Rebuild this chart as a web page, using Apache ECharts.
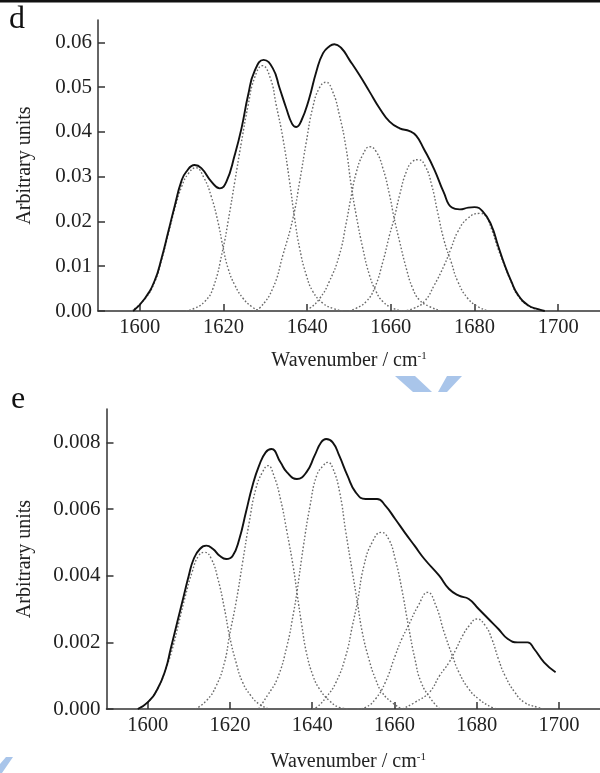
<!DOCTYPE html>
<html>
<head>
<meta charset="utf-8">
<script src="https://cdn.jsdelivr.net/npm/echarts@6/dist/echarts.min.js"></script>
<style>
  html, body { margin: 0; padding: 0; background: #fff; }
  #chart { width: 600px; height: 773px; }
</style>
</head>
<body>
<div id="chart"></div>
<script>
// tick positions
const xTicks = [1600, 1620, 1640, 1660, 1680, 1700];
const yTicksD = [0, 0.01, 0.02, 0.03, 0.04, 0.05, 0.06];
const yTicksE = [0, 0.002, 0.004, 0.006, 0.008];

// panel d - measured spectrum and fitted bands, [wavenumber, value]
const dSum = [[1598.4,0],[1601.2,0.0028],[1603.6,0.0069],[1605.2,0.0118],[1606.8,0.0177],[1608.4,0.0237],[1609.9,0.0289],[1611.1,0.0311],[1613.1,0.0326],[1614.7,0.0319],[1617.1,0.0289],[1619.1,0.0274],[1620.7,0.0289],[1622.7,0.0349],[1624.3,0.0408],[1625.9,0.0483],[1627.4,0.0535],[1629.6,0.0561],[1631.8,0.0542],[1633.4,0.0498],[1635.0,0.0453],[1636.4,0.0418],[1637.4,0.0411],[1638.6,0.0425],[1640.4,0.0472],[1642.2,0.0535],[1643.8,0.0576],[1645.4,0.0592],[1646.5,0.0596],[1648.1,0.0588],[1650.1,0.0561],[1652.5,0.0527],[1654.9,0.049],[1657.3,0.0453],[1659.7,0.0423],[1662.1,0.0408],[1664.5,0.0402],[1666.1,0.0391],[1667.9,0.0362],[1670.4,0.0316],[1672.6,0.0266],[1674.6,0.0231],[1676.5,0.0227],[1678.5,0.0231],[1680.0,0.0232],[1682.0,0.0222],[1684.0,0.0192],[1685.6,0.0147],[1687.2,0.0103],[1688.8,0.0066],[1690.4,0.0036],[1692.8,0.0013],[1695.2,0.0004],[1696.8,0]];
const dG1 = [[1598,0],[1601.2,0.0027],[1603.6,0.0066],[1605.2,0.0114],[1606.8,0.0172],[1608.4,0.023],[1610,0.0278],[1611.6,0.0307],[1613.4,0.032],[1615.3,0.0298],[1617.1,0.0255],[1618.7,0.0198],[1619.9,0.0142],[1621.1,0.0095],[1622.7,0.0058],[1624.7,0.0028],[1626.7,0.001],[1628.5,0]];
const dG2 = [[1611,0],[1613.1,0.0006],[1615.5,0.0021],[1617.5,0.0051],[1619.9,0.014],[1621.1,0.020],[1622.7,0.0289],[1624.3,0.0378],[1625.9,0.046],[1627.4,0.052],[1629.3,0.0548],[1631.2,0.052],[1632.6,0.046],[1634.2,0.0386],[1635.8,0.0289],[1637,0.0207],[1638.2,0.014],[1639.8,0.008],[1641.4,0.0043],[1643.8,0.0017],[1646.1,0.0006],[1648.5,0]];
const dG3 = [[1627,0],[1628.6,0.0006],[1631.8,0.0051],[1634.2,0.0125],[1636.6,0.0207],[1638.2,0.0289],[1639.8,0.0378],[1641.3,0.0453],[1642.9,0.0498],[1644.5,0.0511],[1646.1,0.049],[1647.7,0.0438],[1649.3,0.0364],[1650.5,0.0282],[1651.7,0.0215],[1653.3,0.014],[1654.9,0.008],[1656.5,0.0043],[1658.1,0.0021],[1660.5,0.0006],[1662.9,0]];
const dG4 = [[1639,0],[1640.6,0.0006],[1643,0.0028],[1645.3,0.0066],[1647.7,0.0125],[1649.3,0.0195],[1650.5,0.0255],[1651.7,0.0308],[1653.3,0.0349],[1655.0,0.0367],[1656.5,0.0356],[1658.1,0.0319],[1659.7,0.0259],[1660.8,0.0207],[1662.1,0.0155],[1663.7,0.0095],[1665.2,0.0051],[1666.8,0.0025],[1669.2,0.001],[1672,0]];
const dG5 = [[1650,0],[1651.7,0.0006],[1654.1,0.0021],[1656.1,0.0051],[1658.1,0.011],[1659.7,0.017],[1660.8,0.0207],[1662.1,0.0259],[1663.7,0.0311],[1665.2,0.0334],[1666.6,0.0338],[1668.2,0.0324],[1669.8,0.028],[1671.2,0.022],[1672.8,0.0155],[1674.4,0.011],[1676,0.0066],[1678.4,0.0028],[1680.8,0.001],[1683.2,0]];
const dG6 = [[1663,0],[1665.5,0.0006],[1668,0.0021],[1670.4,0.0058],[1672.8,0.0103],[1674.4,0.014],[1676,0.0177],[1678.4,0.0207],[1681.2,0.0218],[1682.6,0.0213],[1684,0.0185],[1685.6,0.014],[1687.2,0.0101],[1688.8,0.0064],[1690.4,0.0034],[1692.8,0.0012],[1695.2,0.0003],[1697,0]];

// panel e
const eSum = [[1597.6,0],[1600,0.0002],[1602.4,0.0006],[1604.4,0.0012],[1605.6,0.0018],[1607.2,0.0026],[1608.8,0.0034],[1610,0.004],[1611.2,0.0045],[1612.7,0.0048],[1614.3,0.0049],[1615.9,0.0048],[1617.5,0.0046],[1619.1,0.0045],[1620.7,0.0046],[1622.3,0.0051],[1623.9,0.0059],[1625.5,0.0067],[1627.1,0.0073],[1628.7,0.0077],[1630.1,0.0078],[1632.3,0.0074],[1633.9,0.0071],[1636.3,0.0069],[1638.6,0.0071],[1640.6,0.0076],[1642.2,0.008],[1643.4,0.0081],[1645,0.008],[1646.6,0.0076],[1648.6,0.007],[1650.6,0.0065],[1653,0.0063],[1655.8,0.0063],[1657.8,0.0061],[1660.2,0.0057],[1662.5,0.0053],[1664.9,0.0049],[1667.3,0.0045],[1670.9,0.004],[1673.3,0.0036],[1675.7,0.0034],[1678.1,0.0033],[1680.5,0.003],[1682.9,0.0027],[1685.3,0.0024],[1687.6,0.0021],[1690,0.002],[1692.4,0.002],[1694,0.0018],[1696.4,0.0014],[1699.2,0.0011]];
const eG1 = [[1597.6,0],[1600,0.0002],[1602.4,0.0006],[1604.4,0.0012],[1606,0.0018],[1607.6,0.0026],[1609.2,0.0034],[1610.8,0.0041],[1612.4,0.0046],[1613.9,0.0047],[1615.5,0.0045],[1617.1,0.0039],[1618.7,0.003],[1619.9,0.0022],[1621.5,0.0014],[1623.1,0.0008],[1625.1,0.0004],[1627.1,0.00015],[1629.5,0]];
const eG2 = [[1611.6,0],[1614.3,0.00025],[1616.7,0.0007],[1618.7,0.0014],[1619.9,0.0022],[1621.5,0.0032],[1623.1,0.0044],[1624.7,0.0056],[1626.3,0.0066],[1627.9,0.0071],[1629.3,0.0073],[1630.7,0.007],[1632.3,0.0063],[1633.9,0.0053],[1635.5,0.0042],[1636.3,0.0035],[1637.5,0.0025],[1638.6,0.0017],[1640.2,0.001],[1641.8,0.0006],[1644.2,0.00025],[1646.6,0.00005],[1649,0]];
const eG3 = [[1627,0],[1629.1,0.0004],[1631.5,0.0009],[1633.9,0.0019],[1635.5,0.0029],[1636.3,0.0035],[1637.9,0.0049],[1639.5,0.0061],[1641.1,0.007],[1642.7,0.0073],[1643.8,0.0074],[1645.1,0.0072],[1646.7,0.0065],[1648.2,0.0053],[1649.8,0.0041],[1651,0.0032],[1652.2,0.0023],[1653.8,0.0015],[1655.4,0.0009],[1657,0.0005],[1659.4,0.0002],[1661.8,0]];
const eG4 = [[1640,0],[1641.1,0.00005],[1643.4,0.00035],[1645.8,0.0008],[1648.2,0.0016],[1649.8,0.0025],[1651,0.0032],[1652.6,0.0043],[1654.6,0.005],[1656.8,0.0053],[1658.6,0.0051],[1660.2,0.0045],[1661.8,0.0036],[1663.4,0.0025],[1665,0.0015],[1666.5,0.0008],[1668.9,0.0003],[1671,0]];
const eG5 = [[1651,0],[1653,0.00005],[1655.4,0.0003],[1657.8,0.0008],[1660.2,0.0016],[1661.8,0.0021],[1663.4,0.0025],[1665.8,0.0031],[1668.1,0.0035],[1670.1,0.0031],[1672.1,0.0023],[1674.1,0.0016],[1675.7,0.0011],[1678.1,0.0006],[1680.5,0.0003],[1683.7,0.00005],[1685.3,0]];
const eG6 = [[1662,0],[1665,0.0002],[1668.5,0.0005],[1671,0.001],[1673.3,0.0014],[1675,0.0018],[1676.6,0.0022],[1678.2,0.0025],[1680.1,0.0027],[1682.1,0.0025],[1683.7,0.0021],[1685.3,0.0015],[1686.9,0.001],[1689.3,0.0005],[1691.6,0.0002],[1694.8,0.00005],[1696.4,0]];

const serif = "Liberation Serif";
const axisColor = "#333";

function makeX(gridIndex, nameGap, namePad) {
  return {
    type: "value",
    gridIndex: gridIndex,
    min: 1590,
    max: 1710,
    name: "Wavenumber / cm{sup|-1}",
    nameLocation: "middle",
    nameGap: nameGap,
    nameTextStyle: {
      fontFamily: serif,
      fontSize: 20,
      color: "#222",
      padding: namePad,
      rich: {
        sup: { fontFamily: serif, fontSize: 11, color: "#222", verticalAlign: "top" }
      }
    },
    axisLine: { show: true, onZero: false, lineStyle: { color: axisColor, width: 1.5 } },
    axisTick: { show: true, inside: true, length: 7, customValues: xTicks, lineStyle: { color: axisColor, width: 1.5 } },
    axisLabel: {
      customValues: xTicks, fontFamily: serif, fontSize: 20.5, color: "#222", margin: 6,
      formatter: function (v) { return String(v); }
    },
    splitLine: { show: false }
  };
}

function makeY(gridIndex, max, ticks, digits, nameGap) {
  return {
    type: "value",
    gridIndex: gridIndex,
    min: 0,
    max: max,
    name: "Arbitrary units",
    nameLocation: "middle",
    nameGap: nameGap,
    nameTextStyle: { fontFamily: serif, fontSize: 20, color: "#222" },
    axisLine: { show: true, lineStyle: { color: axisColor, width: 1.5 } },
    axisTick: { show: true, inside: true, length: 7, customValues: ticks, lineStyle: { color: axisColor, width: 1.5 } },
    axisLabel: {
      customValues: ticks,
      fontFamily: serif,
      fontSize: 21,
      color: "#222",
      margin: 6,
      formatter: function (v) { return v.toFixed(digits); }
    },
    splitLine: { show: false }
  };
}

function sumLine(data, idx) {
  return {
    type: "line", data: data, xAxisIndex: idx, yAxisIndex: idx,
    symbol: "none", smooth: 0.5, z: 3,
    lineStyle: { color: "#111", width: 1.9 }
  };
}
function bandLine(data, idx) {
  return {
    type: "line", data: data, xAxisIndex: idx, yAxisIndex: idx,
    symbol: "none", smooth: 0.5, z: 2,
    lineStyle: { color: "#6a6a6a", width: 1.4, type: [1.6, 2] }
  };
}

const chart = echarts.init(document.getElementById("chart"), null, { renderer: "canvas" });

const option = {
  animation: false,
  backgroundColor: "#fff",
  grid: [
    { left: 98, top: 20, width: 502, height: 291 },
    { left: 106.5, top: 409, width: 502, height: 301 }
  ],
  xAxis: [makeX(0, 40, [0, 0, 0, 0]), makeX(1, 43, [0, 10, 0, 0])],
  yAxis: [makeY(0, 0.065, yTicksD, 2, 63), makeY(1, 0.009, yTicksE, 3, 72)],
  series: [
    bandLine(dG1, 0), bandLine(dG2, 0), bandLine(dG3, 0),
    bandLine(dG4, 0), bandLine(dG5, 0), bandLine(dG6, 0),
    sumLine(dSum, 0),
    bandLine(eG1, 1), bandLine(eG2, 1), bandLine(eG3, 1),
    bandLine(eG4, 1), bandLine(eG5, 1), bandLine(eG6, 1),
    sumLine(eSum, 1)
  ],
  graphic: [
    { type: "rect", left: 0, top: 0, shape: { width: 600, height: 2.5 }, style: { fill: "#111" } },
    { type: "text", left: 9, top: 4, style: { text: "d", font: "32px 'Liberation Serif'", fill: "#111" } },
    { type: "text", left: 11, top: 384, style: { text: "e", font: "32px 'Liberation Serif'", fill: "#111" } },
    // faint watermark marks
    { type: "polygon", shape: { points: [[395, 376], [415, 376], [432, 392], [413, 392]] }, style: { fill: "#a9c5ea" } },
    { type: "polygon", shape: { points: [[447, 376], [462, 376], [447, 392], [438, 392]] }, style: { fill: "#a9c5ea" } },
    { type: "polygon", shape: { points: [[6, 757], [13, 757], [2, 773], [0, 773], [0, 764]] }, style: { fill: "#a9c5ea" } }
  ]
};

chart.setOption(option);
</script>
</body>
</html>
